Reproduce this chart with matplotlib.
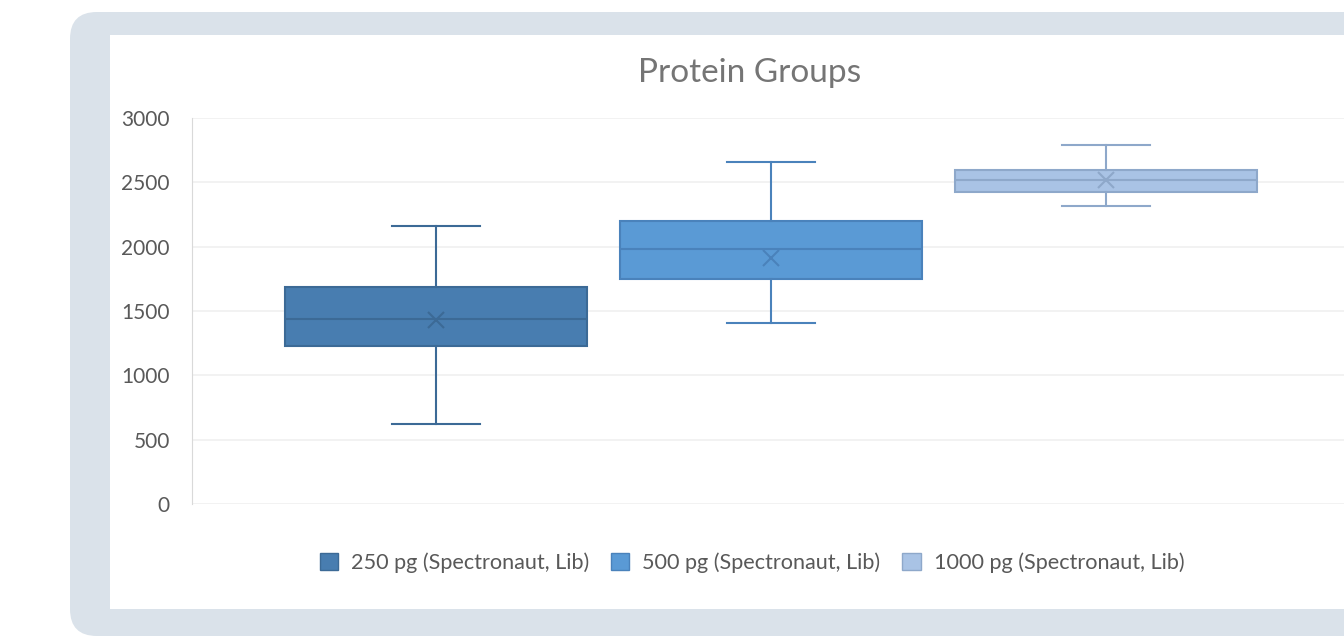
import matplotlib
matplotlib.use('Agg')
import matplotlib.pyplot as plt
from matplotlib.patches import FancyBboxPatch, Rectangle, Patch

# ==================== DATA ====================
groups = ["250 pg (Spectronaut, Lib)", "500 pg (Spectronaut, Lib)", "1000 pg (Spectronaut, Lib)"]
whislo = [618, 1405, 2318]
q1 = [1230, 1751, 2427]
med = [1435, 1985, 2518]
q3 = [1684, 2197, 2596]
whishi = [2160, 2658, 2790]
means = [1430, 1910, 2518]

face_colors = ['#487db0', '#5a9ad5', '#a9c3e5']
edge_colors = ['#3c6a96', '#4a82bb', '#8ea8ca']

W, H = 1344, 637
plt.rcParams['font.family'] = ['Lato', 'DejaVu Sans']

fig = plt.figure(figsize=(W / 100, H / 100), dpi=100)
fig.patch.set_facecolor('white')


def fx(px):
    return px / W


def fy(py):
    return 1 - py / H


# outer rounded frame and inner white panel
frame = FancyBboxPatch((fx(70), fy(636)), fx(1400 - 70), fy(12) - fy(636),
                       boxstyle="round,pad=0,rounding_size=0.02",
                       transform=fig.transFigure, facecolor='#dae2ea',
                       edgecolor='none', zorder=0, mutation_aspect=W / H)
fig.patches.append(frame)
panel = Rectangle((fx(110), fy(609)), fx(1400 - 110), fy(35) - fy(609),
                  transform=fig.transFigure, facecolor='white',
                  edgecolor='none', zorder=0.5)
fig.patches.append(panel)

# axes: category i at pixel 101 + 335*i
x0, x1 = 192, W
ax = fig.add_axes([fx(x0), fy(504), fx(x1 - x0), fy(118) - fy(504)])
ax.set_zorder(2)
ax.set_facecolor('none')
ax.set_xlim((x0 - 101) / 335, (x1 - 101) / 335)
ax.set_ylim(0, 3000)
ax.set_yticks(range(0, 3001, 500))
ax.set_xticks([])
ax.grid(axis='y', color='#f0f0f0', linewidth=1.2, zorder=0)
ax.set_axisbelow(True)
for s in ['top', 'right']:
    ax.spines[s].set_visible(False)
ax.spines['bottom'].set_visible(False)
ax.spines['left'].set_color('#d9d9d9')
ax.tick_params(axis='y', length=0, pad=16, labelsize=15, labelcolor='#595959')

positions = [1, 2, 3]
for i in range(3):
    stats = [dict(med=med[i], q1=q1[i], q3=q3[i], whislo=whislo[i],
                  whishi=whishi[i], mean=means[i], fliers=[])]
    ec = edge_colors[i]
    ax.bxp(stats, positions=[positions[i]], widths=0.9, capwidths=0.265,
           showmeans=True, patch_artist=True, manage_ticks=False,
           boxprops=dict(facecolor=face_colors[i], edgecolor=ec, linewidth=1.5),
           medianprops=dict(color=ec, linewidth=1.5),
           whiskerprops=dict(color=ec, linewidth=1.5),
           capprops=dict(color=ec, linewidth=1.5),
           meanprops=dict(marker='x', markeredgecolor=ec, markersize=12,
                          markeredgewidth=1.5))

fig.text(fx(750), fy(73), 'Protein Groups', ha='center', va='center',
         fontsize=24, color='#757575', zorder=3)

handles = [Patch(facecolor=face_colors[i], edgecolor=edge_colors[i], label=groups[i])
           for i in range(3)]
leg = fig.legend(handles=handles, loc='center', bbox_to_anchor=(fx(752), fy(563)),
                 ncol=3, frameon=False, fontsize=15.6, handlelength=0.85, handleheight=0.85,
                 handletextpad=0.6, columnspacing=1.0, labelcolor='#595959')
leg.set_zorder(3)

fig.savefig('out.png', dpi=100)
